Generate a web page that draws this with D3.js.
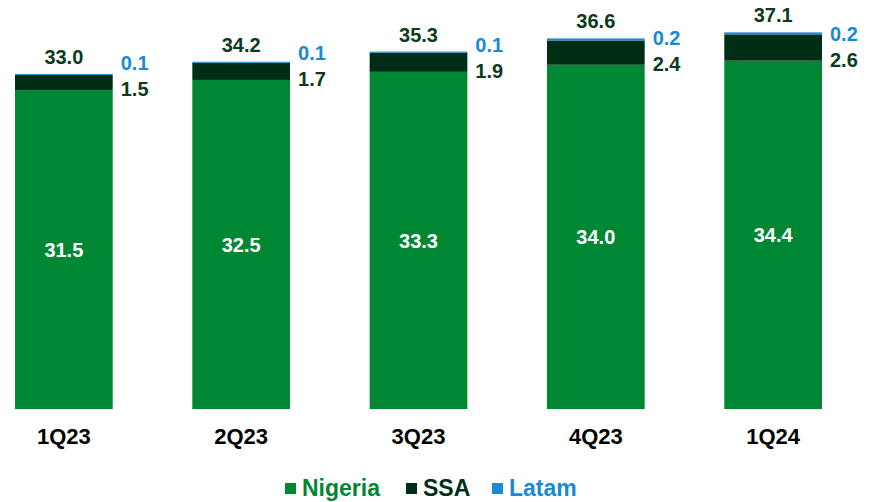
<!DOCTYPE html>
<html>
<head>
<meta charset="utf-8">
<script src="https://cdn.jsdelivr.net/npm/d3@7"></script>
<style>
  body { margin: 0; background: #fff; }
  text { font-family: "Liberation Sans", Arial, sans-serif; font-weight: bold; }
</style>
</head>
<body>
<div id="chart"></div>
<script>
// quarters and series values
const quarters = ["1Q23", "2Q23", "3Q23", "4Q23", "1Q24"];
const nigeria = [31.5, 32.5, 33.3, 34.0, 34.4];
const ssa = [1.5, 1.7, 1.9, 2.4, 2.6];
const latam = [0.1, 0.1, 0.1, 0.2, 0.2];
const totals = [33.0, 34.2, 35.3, 36.6, 37.1];
const seriesNames = ["Nigeria", "SSA", "Latam"];

const colors = { Nigeria: "#008733", SSA: "#002d16", Latam: "#1a8ad4" };
const labelDark = "#0d3a1c";

const W = 873, H = 502;

let svg = d3.select("#chart")
    .append("svg")
    .attr("width", W)
    .attr("height", H);

// build rows for the stack
let rows = quarters.map((q, i) => ({ q: q, Nigeria: nigeria[i], SSA: ssa[i], Latam: latam[i], total: totals[i] }));

let x = d3.scaleBand()
    .domain(quarters)
    .range([15, 822])
    .paddingInner(0.449)
    .paddingOuter(0);

let y = d3.scaleLinear()
    .domain([0, 40])
    .range([409, 4]);

let stack = d3.stack().keys(seriesNames)(rows);

// bars
svg.append("g")
    .selectAll("g")
    .data(stack)
    .enter()
    .append("g")
    .attr("fill", d => colors[d.key])
    .selectAll("rect")
    .data(d => d)
    .enter()
    .append("rect")
    .attr("x", d => x(d.data.q))
    .attr("y", d => y(d[1]))
    .attr("width", x.bandwidth())
    .attr("height", d => y(d[0]) - y(d[1]));

// category axis (labels only)
let xAxis = svg.append("g")
    .attr("transform", "translate(0,428)")
    .call(d3.axisBottom(x).tickSize(0).tickPadding(0));
xAxis.select(".domain").remove();
xAxis.selectAll("text")
    .attr("dy", "0.71em")
    .style("font-size", "22px")
    .style("font-family", "'Liberation Sans', Arial, sans-serif")
    .style("font-weight", "bold")
    .attr("fill", "#000");

// Nigeria value inside bar
svg.append("g")
    .selectAll("text")
    .data(rows)
    .enter()
    .append("text")
    .attr("x", d => x(d.q) + x.bandwidth() / 2)
    .attr("y", d => (y(0) + y(d.Nigeria)) / 2)
    .attr("dy", "0.36em")
    .attr("text-anchor", "middle")
    .attr("fill", "#fff")
    .style("font-size", "20px")
    .text(d => d.Nigeria.toFixed(1));

// totals above bar
svg.append("g")
    .selectAll("text")
    .data(rows)
    .enter()
    .append("text")
    .attr("x", d => x(d.q) + x.bandwidth() / 2)
    .attr("y", d => y(d.Nigeria + d.SSA + d.Latam) - 10)
    .attr("text-anchor", "middle")
    .attr("fill", labelDark)
    .style("font-size", "20px")
    .text(d => d.total.toFixed(1));

// SSA labels right of bar
svg.append("g")
    .selectAll("text")
    .data(rows)
    .enter()
    .append("text")
    .attr("x", d => x(d.q) + x.bandwidth() + 8)
    .attr("y", d => y(d.Nigeria) + 6)
    .attr("fill", labelDark)
    .style("font-size", "20px")
    .text(d => d.SSA.toFixed(1));

// Latam labels right of bar
svg.append("g")
    .selectAll("text")
    .data(rows)
    .enter()
    .append("text")
    .attr("x", d => x(d.q) + x.bandwidth() + 8)
    .attr("y", d => y(d.Nigeria) - 20)
    .attr("fill", colors.Latam)
    .style("font-size", "20px")
    .text(d => d.Latam.toFixed(1));

// legend
let legendX = [285, 406, 492];
let legend = svg.append("g")
    .selectAll("g")
    .data(seriesNames)
    .enter()
    .append("g")
    .attr("transform", (d, i) => "translate(" + legendX[i] + ",483)");
legend.append("rect")
    .attr("width", 11)
    .attr("height", 11)
    .attr("fill", d => colors[d]);
legend.append("text")
    .attr("x", 17)
    .attr("y", 13)
    .attr("fill", d => colors[d])
    .style("font-size", "23px")
    .text(d => d);
</script>
</body>
</html>
